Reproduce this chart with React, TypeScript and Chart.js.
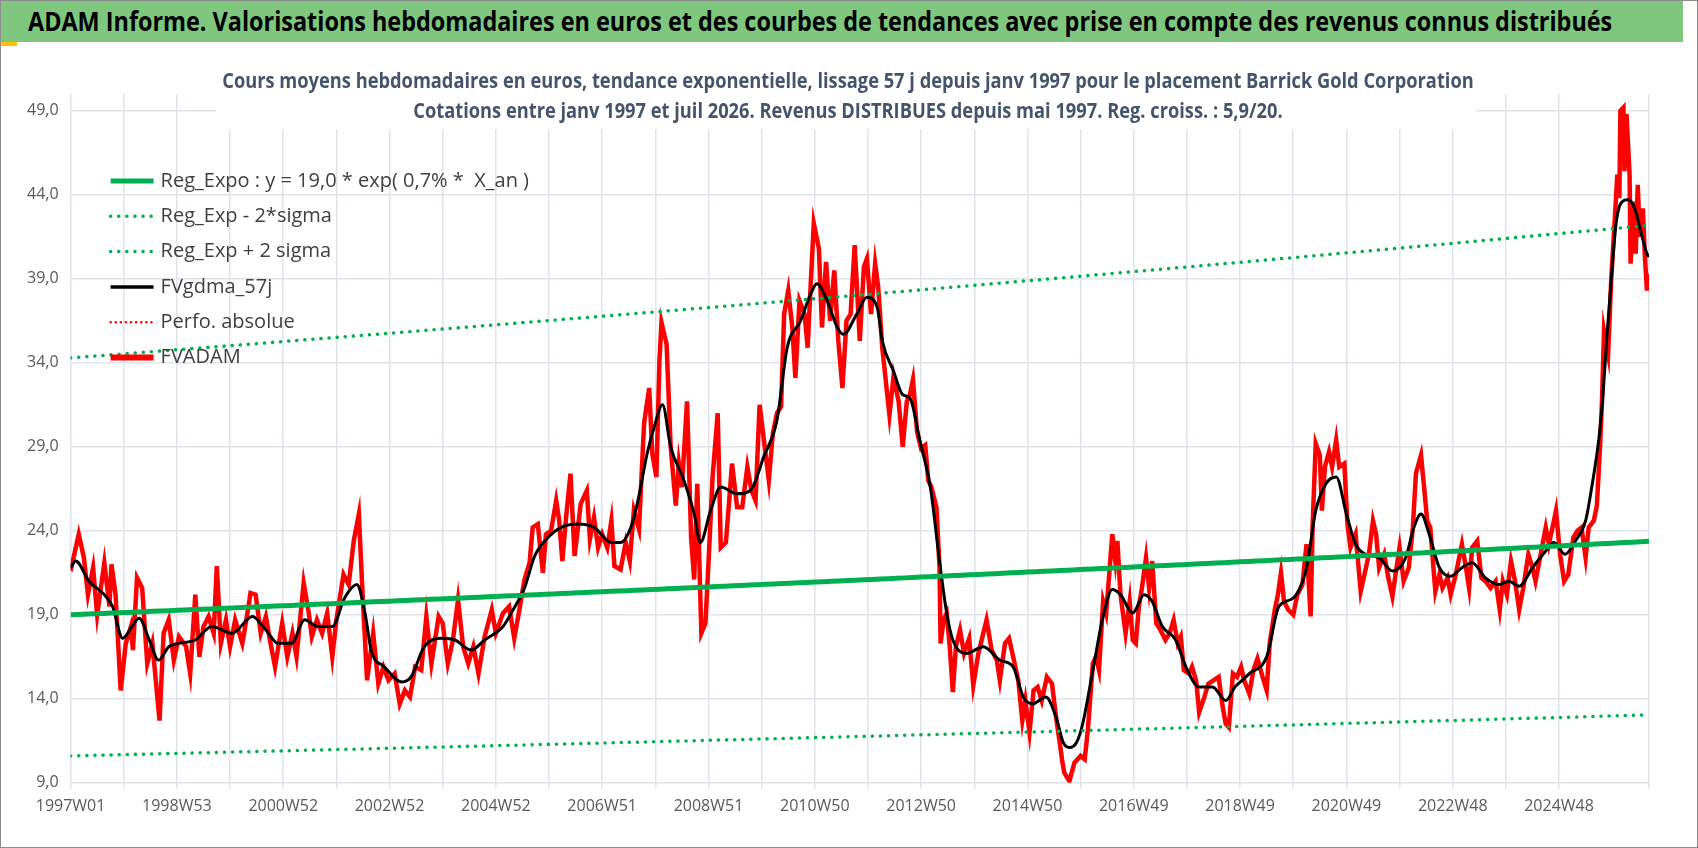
import React, { useEffect, useRef } from "react";
import { Chart, registerables } from "chart.js";
Chart.register(...registerables);

const HEADER = "ADAM Informe. Valorisations hebdomadaires en euros et des courbes de tendances avec prise en compte des revenus connus distribués";
const TITLE_LINES = [
  "Cours moyens hebdomadaires en euros, tendance exponentielle, lissage 57 j depuis janv 1997 pour le placement Barrick Gold Corporation",
  "Cotations entre janv 1997 et juil 2026. Revenus DISTRIBUES depuis mai 1997. Reg. croiss. : 5,9/20.",
];
const X_LABELS = ["1997W01", "1998W53", "2000W52", "2002W52", "2004W52", "2006W51", "2008W51", "2010W50", "2012W50", "2014W50", "2016W49", "2018W49", "2020W49", "2022W48", "2024W48"];
const Y_TICKS = [9, 14, 19, 24, 29, 34, 39, 44, 49];
const LAST_WEEK = 1544;
const REG_A = 19.0;
const REG_RATE = 0.007;
const SIGMA_LOW = 0.558;
const SIGMA_HIGH = 1.805;

const RED_WEEKS = [0,8,13,17,22,26,33,38,40,44,49,54,59,61,65,70,75,80,87,91,96,101,106,113,117,122,126,130,135,140,143,147,152,156,161,168,173,176,181,186,191,195,200,207,212,217,221,228,233,236,241,246,251,256,260,267,272,277,282,285,290,296,301,306,311,317,322,327,332,337,343,348,353,360,364,369,374,379,384,389,394,399,405,412,416,423,
429,434,439,444,449,452,457,462,465,470,475,478,481,485,489,493,499,505,508,512,516,520,525,529,532,538,543,547,551,556,561,566,569,573,576,578,583,587,592,595,598,603,607,610,613,617,621,624,628,633,636,641,644,647,652,657,662,666,670,674,679,683,687,691,695,698,702,706,709,713,718,721,724,727,732,735,739,743,747,751,755,759,763,767,772,776,779,783,787,790,794,
801,805,810,814,818,821,824,828,832,836,839,842,847,850,851,854,857,860,863,866,870,874,879,883,888,892,896,901,906,909,914,918,922,927,931,934,938,942,946,950,955,960,964,968,970,972,977,982,988,992,995,1000,1003,1006,1010,1013,1016,1019,1022,1024,1027,1032,1036,1039,1042,1045,1048,1052,1055,1058,1062,1066,1071,1075,1079,1083,1086,1089,1094,1097,1101,1104,1109,1113,1118,1123,1127,1130,1133,1137,1141,
1145,1148,1153,1157,1161,1166,1170,1173,1178,1181,1184,1187,1191,1196,1200,1205,1209,1213,1215,1218,1222,1224,1227,1231,1234,1238,1241,1246,1249,1252,1257,1262,1265,1270,1274,1277,1280,1285,1289,1293,1297,1300,1304,1309,1313,1316,1321,1324,1327,1330,1335,1339,1342,1347,1350,1355,1361,1365,1368,1371,1376,1380,1384,1389,1394,1398,1401,1405,1409,1413,1417,1421,1426,1430,1433,1438,1443,1446,1451,1453,1457,1461,1465,1470,1474,1478,1482,1485,1490,1493,1496,1498,1500,1504,1507,1510,1513,1515,1516,1519,1520,1522,1525,1526,1529,1531,1533,1535,1538,1540,1542,1544];
const RED_VALUES = [21.6,23.8,22.4,20.2,21.8,19.0,22.1,19.5,22.0,20.2,14.5,17.3,18.3,16.9,21.2,20.6,16.1,17.3,12.7,17.9,18.7,16.3,17.7,17.1,15.5,20.2,16.5,18.3,18.9,17.9,21.9,17.3,18.7,17.1,18.7,17.3,19.1,20.3,20.2,17.9,18.9,17.5,15.9,18.5,16.5,17.9,16.5,20.9,19.1,17.7,18.7,17.9,19.1,16.5,18.7,21.4,20.8,23.4,25.0,21.0,15.1,17.9,14.9,15.9,15.1,15.5,13.7,14.5,14.1,15.9,15.7,18.9,16.1,18.9,18.5,16.1,17.5,19.9,17.1,16.1,17.1,15.5,17.7,19.3,17.9,19.1,
19.5,17.6,19.3,21.1,22.1,24.2,24.4,21.5,23.8,24.0,25.8,24.6,22.2,25.0,27.4,22.5,25.6,26.4,23.5,24.8,23.0,23.8,23.0,24.6,21.9,21.7,23.3,22.2,25.2,24.1,30.4,32.5,28.6,27.2,34.1,36.4,35.1,29.0,25.5,28.0,26.6,31.7,23.6,21.1,26.8,17.9,18.5,22.1,27.2,31.0,23.0,23.3,25.6,28.0,25.4,25.4,27.8,26.4,25.8,31.5,29.0,27.0,29.8,31.0,31.4,36.9,38.3,36.1,33.1,37.7,36.9,34.9,38.7,42.3,40.8,36.1,40.0,36.5,39.5,35.3,32.5,36.5,36.9,41.0,35.3,39.7,40.2,36.9,39.9,38.5,34.9,
30.9,33.2,31.7,29.0,31.7,32.1,33.0,29.9,28.9,29.1,27.0,26.6,25.4,21.8,17.3,18.7,19.1,17.1,14.4,17.1,18.1,16.7,17.6,14.8,16.7,17.7,18.7,16.9,16.3,15.1,17.3,17.6,16.5,15.1,12.7,13.9,12.0,14.5,14.7,13.9,15.3,14.9,12.9,11.2,10.3,9.6,9.1,10.2,10.6,10.4,12.1,16.1,16.5,15.7,19.8,19.1,21.4,23.8,22.2,23.4,20.2,17.9,19.8,17.5,17.3,19.5,20.6,22.4,20.6,22.2,18.5,18.1,17.5,17.9,18.7,17.3,17.7,15.7,15.5,15.9,15.1,13.2,14.1,14.9,15.1,15.3,13.5,12.5,12.3,15.5,15.3,
15.9,15.1,14.3,15.7,16.4,15.3,14.5,17.3,19.3,20.2,21.5,19.8,19.3,19.0,20.2,20.8,23.2,18.9,24.4,29.2,28.5,25.2,27.8,28.7,27.8,29.4,27.8,28.0,24.4,23.0,23.8,20.4,21.2,22.6,24.6,23.8,21.8,22.6,21.2,20.1,21.8,23.0,21.0,21.8,24.2,27.4,28.5,26.6,24.6,24.2,20.4,21.4,20.6,21.2,20.2,21.4,23.2,21.8,20.6,23.0,23.4,21.2,21.0,20.6,21.0,19.3,21.0,20.2,22.2,21.0,19.3,20.6,22.6,21.8,21.0,22.6,24.2,23.2,24.6,25.2,22.6,21.0,21.4,23.6,24.0,24.2,22.4,24.2,24.6,25.5,28.9,31.7,35.9,34.5,38.9,42.0,45.2,43.8,49.0,49.2,45.4,48.8,45.2,39.9,43.6,40.5,44.6,41.5,43.2,40.3,38.3,39.3];

const BLACK_WEEKS = [0,5,18,33,41,51,60,67,77,86,96,106,122,138,158,178,191,203,216,229,242,256,268,280,288,294,307,324,333,346,363,376,392,405,423,431,444,454,467,480,496,512,529,538,548,555,564,571,579,587,600,610,616,626,636,652,665,678,691,701,714,724,730,740,750,756,769,779,789,794,805,814,821,831,841,850,857,863,876,893,909,922,932,941,954,964,971,977,984,990,1000,1010,1019,1027,1039,1050,1058,1068,1081,1091,1104,1117,1130,1139,1146,1153,1170,1182,1196,1209,1218,1228,1238,1248,1257,1267,1280,1293,1306,1314,1321,1329,1339,1350,1361,1371,1384,1397,1407,1417,1430,1443,1451,1462,1472,1482,1488,1495,1499,1503,1508,1512,1515,1518,1523,1530,1536,1542,1544];
const BLACK_VALUES = [21.8,22.2,21.0,20.2,19.5,17.6,18.3,18.8,17.5,16.3,17.1,17.3,17.5,18.3,17.9,18.9,18.1,17.3,17.3,18.7,18.3,18.3,20.0,20.8,19.1,16.9,15.9,15.0,15.3,17.1,17.6,17.5,16.9,17.5,18.3,19.1,20.6,22.5,23.6,24.2,24.4,24.2,23.3,23.3,24.2,25.8,28.6,30.2,31.5,29.0,27.0,25.0,23.3,25.2,26.6,26.2,26.4,28.4,30.6,34.9,36.5,38.1,38.7,37.7,36.1,35.7,36.9,37.9,37.3,35.3,33.5,32.1,31.9,29.3,26.6,22.2,19.1,17.5,16.7,17.1,16.3,15.9,14.1,13.7,14.1,12.9,11.4,11.1,11.4,12.5,15.7,18.9,20.5,20.2,19.1,20.2,19.8,18.3,17.5,15.9,14.7,14.7,13.9,14.7,15.1,15.5,16.5,19.5,20.0,21.8,25.2,26.8,27.2,25.0,23.2,22.6,22.4,21.6,22.4,24.2,25.0,23.8,21.8,21.3,21.8,22.1,21.2,20.8,21.0,20.7,21.8,22.8,23.3,22.6,23.4,24.6,26.6,29.5,32.1,35.7,39.7,42.4,43.3,43.6,43.7,43.2,41.8,40.5,40.3];

const TREND_STEP = 8;

function zip(xs: number[], ys: number[]) {
  return xs.map((x, i) => ({ x, y: ys[i] }));
}
function trend(factor: number) {
  const pts: { x: number; y: number }[] = [];
  for (let w = 0; w <= LAST_WEEK; w += TREND_STEP) pts.push({ x: w, y: factor * REG_A * Math.exp(REG_RATE * (w / 52.18)) });
  if (pts[pts.length - 1].x !== LAST_WEEK) pts.push({ x: LAST_WEEK, y: factor * REG_A * Math.exp(REG_RATE * (LAST_WEEK / 52.18)) });
  return pts;
}

const FONT = "'Open Sans', sans-serif";

export default function App() {
  const ref = useRef<HTMLCanvasElement>(null);
  useEffect(() => {
    const overlayPlugin = {
      id: "overlay",
      afterDraw(chart: any) {
        const ctx = chart.ctx;
        const a = chart.chartArea;
        ctx.save();
        ctx.fillStyle = "#ffffff";
        ctx.fillRect(215, 0, 1260, 83);
        ctx.fillStyle = "#44546a";
        ctx.font = "bold 21px " + FONT;
        ctx.textAlign = "center";
        ctx.textBaseline = "middle";
        TITLE_LINES.forEach((t, i) => {
          ctx.save();
          ctx.translate(847, 36 + i * 30);
          ctx.scale(0.87, 1);
          ctx.fillText(t, 0, 0);
          ctx.restore();
        });
        const x0 = a.left + 40, x1 = a.left + 83, tx = a.left + 90;
        ctx.textAlign = "left";
        ctx.font = "20px " + FONT;
        chart.data.datasets.forEach((ds: any, i: number) => {
          const y = a.top + 87 + i * 35.3;
          ctx.beginPath();
          ctx.strokeStyle = ds.borderColor;
          ctx.lineWidth = ds.legendWidth;
          ctx.lineCap = ds.borderDash ? "round" : "butt";
          ctx.setLineDash(ds.borderDash || []);
          ctx.moveTo(x0, y);
          ctx.lineTo(x1, y);
          ctx.stroke();
          ctx.setLineDash([]);
          ctx.fillStyle = "#404040";
          ctx.fillText(ds.label, tx, y);
        });
        ctx.restore();
      },
    };
    const chart = new Chart(ref.current!, {
      type: "line",
      data: {
        datasets: [
          { label: "Reg_Expo : y = 19,0 * exp( 0,7% *  X_an )", data: trend(1), borderColor: "#00b050", borderWidth: 5, legendWidth: 5, pointRadius: 0 } as any,
          { label: "Reg_Exp - 2*sigma", data: trend(SIGMA_LOW), borderColor: "#00b050", borderWidth: 3.5, borderDash: [0.1, 8], borderCapStyle: "round", legendWidth: 3.5, pointRadius: 0 } as any,
          { label: "Reg_Exp + 2 sigma", data: trend(SIGMA_HIGH), borderColor: "#00b050", borderWidth: 3.5, borderDash: [0.1, 8], borderCapStyle: "round", legendWidth: 3.5, pointRadius: 0 } as any,
          { label: "FVgdma_57j", data: zip(BLACK_WEEKS, BLACK_VALUES), borderColor: "#000000", borderWidth: 3, legendWidth: 3.5, pointRadius: 0, cubicInterpolationMode: "monotone", order: 1 } as any,
          { label: "Perfo. absolue", data: [], borderColor: "#ff0000", borderWidth: 2.5, borderDash: [0.1, 5], legendWidth: 2.5, pointRadius: 0 } as any,
          { label: "FVADAM", data: zip(RED_WEEKS, RED_VALUES), borderColor: "#ff0000", borderWidth: 4.5, legendWidth: 6, pointRadius: 0, order: 2 } as any,
        ],
      },
      options: {
        animation: false,
        responsive: false,
        maintainAspectRatio: false,
        layout: { padding: { left: 14, right: 48, top: 48, bottom: 24 } },
        plugins: {
          legend: { display: false },
          tooltip: { enabled: false },
          title: { display: false },
        },
        scales: {
          x: {
            type: "linear",
            min: 0,
            max: LAST_WEEK,
            ticks: {
              stepSize: 52,
              autoSkip: false,
              maxRotation: 0,
              color: "#595959",
              font: { family: FONT, size: 16 },
              padding: 8,
              callback: (v: any) => (v % 104 === 0 ? X_LABELS[v / 104] : ""),
            },
            grid: { color: "#dfe3ea", lineWidth: 1.5, drawTicks: true, tickLength: 6 },
            border: { display: false },
          },
          y: {
            min: 9,
            max: 50,
            afterBuildTicks: (axis: any) => {
              axis.ticks = Y_TICKS.map((v) => ({ value: v }));
            },
            ticks: {
              color: "#595959",
              font: { family: FONT, size: 16 },
              padding: 12,
              callback: (v: any) => Number(v).toFixed(1).replace(".", ","),
            },
            grid: { color: "#dfe3ea", lineWidth: 1.5, drawTicks: false },
            border: { display: false },
          },
        },
      },
      plugins: [overlayPlugin],
    } as any);
    return () => chart.destroy();
  }, []);

  return (
    <div style={{ position: "absolute", left: 0, top: 0, width: 1698, height: 848, background: "#fff", border: "1px solid #8c8c8c", boxSizing: "border-box", overflow: "hidden" }}>
      <div style={{ position: "absolute", left: 0, top: 0, width: 1682, height: 41, background: "#7fc77f" }} />
      <div style={{ position: "absolute", left: 27, top: 0, height: 41, fontFamily: FONT, fontWeight: "bold", fontSize: 26, lineHeight: "41px", color: "#000", whiteSpace: "nowrap", transform: "scaleX(0.9)", transformOrigin: "left center" }}>{HEADER}</div>
      <div style={{ position: "absolute", left: 0, top: 41, width: 16, height: 4, background: "#ffc000" }} />
      <canvas ref={ref} width={1696} height={802} style={{ position: "absolute", left: 0, top: 45, width: 1696, height: 802 }} />
    </div>
  );
}
